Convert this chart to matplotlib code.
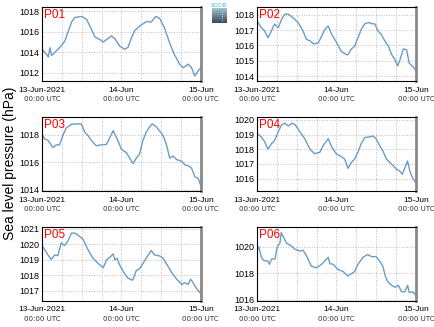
import numpy as np
import matplotlib
matplotlib.use("Agg")
import matplotlib.pyplot as plt
from matplotlib.colors import LinearSegmentedColormap

plt.rcParams["font.family"] = ["Liberation Sans", "DejaVu Sans"]

# hours since 13-Jun-2021 00:00 UTC and pressure (hPa)
p01_t = [0, 1.4, 1.9, 2.4, 2.9, 3.9, 5.4, 6.9, 8, 9, 10, 12, 13.5, 15, 16, 17.5, 18.5, 19.5, 21, 22,
         23.5, 25, 26, 27, 28, 29.6, 31.6, 33, 34.4, 35.6, 37, 38.6, 40, 41.6, 42.7, 44.2, 45.2, 46.2, 47.2, 48]
p01_p = [1014.3, 1013.8, 1013.55, 1014.45, 1013.7, 1014.0, 1014.5, 1015.1, 1016.1, 1017.0, 1017.4, 1017.5,
         1017.2, 1016.2, 1015.5, 1015.25, 1015.0, 1015.25, 1015.6, 1015.35, 1014.6, 1014.3, 1014.5, 1015.4,
         1016.1, 1016.6, 1017.0, 1016.95, 1017.5, 1017.3, 1016.4, 1014.9, 1013.8, 1012.85, 1012.5, 1012.85,
         1012.5, 1011.7, 1012.2, 1012.5]

p02_t = [0, 1.3, 2.3, 3.3, 4.3, 5.3, 6.4, 7.4, 8.4, 9.4, 10.9, 12.4, 13.9, 14.9, 16, 17, 18.5, 19.5, 20.5,
         21.5, 22.6, 24.1, 25.5, 27, 27.5, 28.5, 29.5, 30.5, 31.5, 32.5, 33.6, 34.6, 35.6, 36.6, 37.6, 38.6,
         39.7, 40.7, 41.7, 42.5, 43.2, 44.2, 45.2, 46, 47.2, 48]
p02_p = [1017.6, 1017.16, 1016.94, 1016.5, 1016.94, 1017.4, 1017.16, 1017.7, 1018.05, 1018.05, 1017.8,
         1017.5, 1016.94, 1016.4, 1016.3, 1016.1, 1016.17, 1016.6, 1017.05, 1017.27, 1016.7, 1016.17,
         1015.6, 1015.4, 1015.4, 1015.77, 1015.95, 1016.5, 1017.05, 1017.4, 1017.5, 1017.43, 1017.4,
         1016.94, 1016.7, 1016.3, 1015.95, 1015.4, 1015.06, 1014.66, 1015.06, 1015.77, 1015.72, 1014.84,
         1014.6, 1014.35]

p03_t = [0, 0.8, 1.8, 3.3, 4.3, 5.3, 6.3, 7.3, 8.9, 10.4, 11.9, 12.9, 13.9, 14.9, 16.4, 17.9, 19.5, 20.5,
         21.5, 22.2, 22.9, 24, 25.5, 26.5, 27.5, 28.5, 29.5, 30.5, 31.5, 32.6, 33.3, 34.5, 35.5, 36.6, 37.6,
         38.6, 39.6, 40.7, 42.2, 43.2, 44.2, 45.2, 46.2, 47.2, 48]
p03_p = [1018.07, 1017.7, 1017.6, 1017.07, 1017.27, 1017.27, 1017.95, 1018.5, 1018.77, 1018.8, 1018.8,
         1018.2, 1017.95, 1017.6, 1017.2, 1017.27, 1017.3, 1017.8, 1018.3, 1017.95, 1017.6, 1016.95,
         1016.7, 1016.3, 1015.9, 1016.3, 1016.6, 1017.6, 1018.2, 1018.6, 1018.8, 1018.6, 1018.3, 1017.95,
         1017.3, 1016.3, 1016.45, 1016.2, 1016.07, 1015.8, 1015.75, 1015.57, 1014.95, 1014.8, 1014.3]

p04_t = [0, 1.3, 2.3, 3.3, 4.3, 5.3, 6.4, 7.4, 8.4, 9.4, 10.6, 11.6, 12.9, 14.4, 16, 17.4, 19, 20, 21.5,
         22.6, 24, 25, 26.5, 27.5, 28.5, 29.5, 30.5, 31.5, 32.6, 34, 35, 36, 37, 38, 39.1, 40.7, 42.2, 43.2,
         43.9, 44.7, 45.5, 46.2, 46.9, 48]
p04_p = [1019.07, 1018.84, 1018.5, 1018.0, 1018.37, 1018.6, 1019.2, 1019.65, 1019.77, 1019.58, 1019.77,
         1019.65, 1019.2, 1018.72, 1018.0, 1017.7, 1017.8, 1018.26, 1018.72, 1018.14, 1017.67, 1017.56,
         1017.33, 1016.7, 1017.1, 1017.33, 1017.8, 1018.4, 1018.8, 1018.84, 1018.9, 1018.72, 1018.26,
         1017.9, 1017.33, 1016.98, 1016.63, 1016.5, 1016.3, 1016.74, 1017.2, 1016.5, 1016.1, 1015.7]

p05_t = [0, 0.8, 1.8, 2.8, 3.8, 4.8, 5.8, 6.8, 7.8, 8.9, 9.9, 10.9, 12.4, 13.9, 15.4, 17, 18.5, 19.5,
         20.7, 21.5, 22, 22.7, 23.5, 25, 26, 27.4, 28.5, 29.5, 30.5, 31.5, 33, 34, 35.5, 36.6, 37.6, 39.1,
         40.7, 42.2, 43.2, 44.2, 44.9, 45.7, 46.7, 48]
p05_p = [1019.92, 1019.65, 1019.31, 1019.02, 1019.31, 1019.27, 1020.1, 1019.92, 1020.2, 1020.73, 1020.73,
         1020.6, 1020.33, 1019.65, 1019.1, 1018.75, 1018.48, 1018.98, 1019.2, 1019.38, 1018.98, 1019.1,
         1018.64, 1018.08, 1017.8, 1017.67, 1018.3, 1018.42, 1018.75, 1019.1, 1019.6, 1019.31, 1019.25,
         1019.1, 1018.75, 1018.2, 1017.74, 1017.4, 1017.5, 1017.4, 1017.74, 1017.5, 1017.13, 1016.8]

p06_t = [0, 0.5, 1.3, 2.1, 3.2, 3.7, 4.4, 5.4, 6.1, 6.9, 7.3, 8.1, 8.9, 10.4, 11.5, 12.9, 13.9, 14.9,
         16.4, 17.9, 19.5, 21, 21.5, 22, 23, 24.5, 26, 27.4, 28.5, 29.5, 30.5, 32, 33.4, 34.6, 36, 37, 38,
         38.8, 39.6, 40.7, 41.7, 42.7, 43.7, 44.7, 45.5, 46, 47, 48]
p06_p = [1019.73, 1020.0, 1019.2, 1018.93, 1018.93, 1018.67, 1019.07, 1019.07, 1020.0, 1020.27, 1021.07,
         1020.67, 1020.27, 1020.05, 1019.8, 1019.68, 1019.73, 1019.33, 1018.53, 1018.4, 1018.67, 1019.07,
         1019.2, 1018.72, 1018.67, 1018.27, 1018.13, 1017.79, 1017.95, 1018.13, 1018.67, 1019.2, 1019.41,
         1019.25, 1019.25, 1018.93, 1018.53, 1017.73, 1017.33, 1017.07, 1016.93, 1017.07, 1016.59,
         1016.59, 1017.07, 1016.53, 1016.59, 1016.33]

names = ["P01", "P02", "P03", "P04", "P05", "P06"]
times = [p01_t, p02_t, p03_t, p04_t, p05_t, p06_t]
values = [p01_p, p02_p, p03_p, p04_p, p05_p, p06_p]
ylims = [(1011.2, 1018.4), (1013.67, 1018.5), (1013.9, 1019.3),
         (1015.16, 1020.19), (1016.33, 1021.13), (1015.9, 1021.5)]
ysteps = [2, 1, 2, 1, 1, 2]
xtick_hours = [0, 24, 48]
xtick_labels = ["13-Jun-2021", "14-Jun", "15-Jun"]

fig = plt.figure(figsize=(4.35, 3.27), dpi=100)

lefts = [0.0966, 0.591]
bottoms = [0.752, 0.416, 0.080]
w, h = 0.365, 0.226

for i, name in enumerate(names):
    ax = fig.add_axes([lefts[i % 2], bottoms[i // 2], w, h])
    ax.plot(times[i], values[i], color="#6b9cc6", lw=1)
    ax.set_xlim(0, 48)
    ax.set_ylim(*ylims[i])
    lo, hi = ylims[i]
    step = ysteps[i]
    ax.set_yticks(np.arange(np.ceil(lo / step) * step, hi, step))
    ax.set_xticks(xtick_hours)
    ax.set_xticks(np.arange(0, 49, 6), minor=True)
    ax.set_xticklabels(xtick_labels, fontsize=6)
    ax.tick_params(axis="y", labelsize=6.5, length=0, pad=2)
    ax.tick_params(axis="x", which="both", length=0, pad=4)
    ax.grid(True, which="both", color="#bbbbbb", ls=":", lw=0.7)
    for x in xtick_hours:
        ax.text(x, -0.245, "00:00 UTC", transform=ax.get_xaxis_transform(),
                ha="center", va="center", fontsize=5.1, color="#333333", family="DejaVu Sans")
    for s in ["top", "left", "bottom"]:
        ax.spines[s].set_color("black")
        ax.spines[s].set_linewidth(0.8)
    ax.spines["right"].set_color("#8a8a8a")
    ax.spines["right"].set_linewidth(2)
    ax.text(0.01, 0.97, name, transform=ax.transAxes, color="red",
            fontsize=8.5, ha="left", va="top")

fig.text(0.022, 0.5, "Sea level pressure (hPa)", rotation=90, ha="center", va="center", fontsize=10)

# small logo at the top
logo = fig.add_axes([0.487, 0.930, 0.033, 0.046])
logo_cmap = LinearSegmentedColormap.from_list("logo", ["#a9c8d6", "#6f8c9c", "#3c4b57"])
grad = np.linspace(0, 1, 20).reshape(-1, 1)
logo.imshow(grad, cmap=logo_cmap, aspect="auto", extent=[0, 1, 0, 1], origin="upper")
logo.plot([0.68, 0.68], [0.15, 0.85], color="white", ls=":", lw=0.6)
logo.set_xlim(0, 1)
logo.set_ylim(0, 1)
logo.axis("off")
fig.text(0.503, 0.975, "SOCIB", color="#3fb8d0", fontsize=3.8, ha="center", va="bottom")

plt.savefig("out.png", dpi=100)
